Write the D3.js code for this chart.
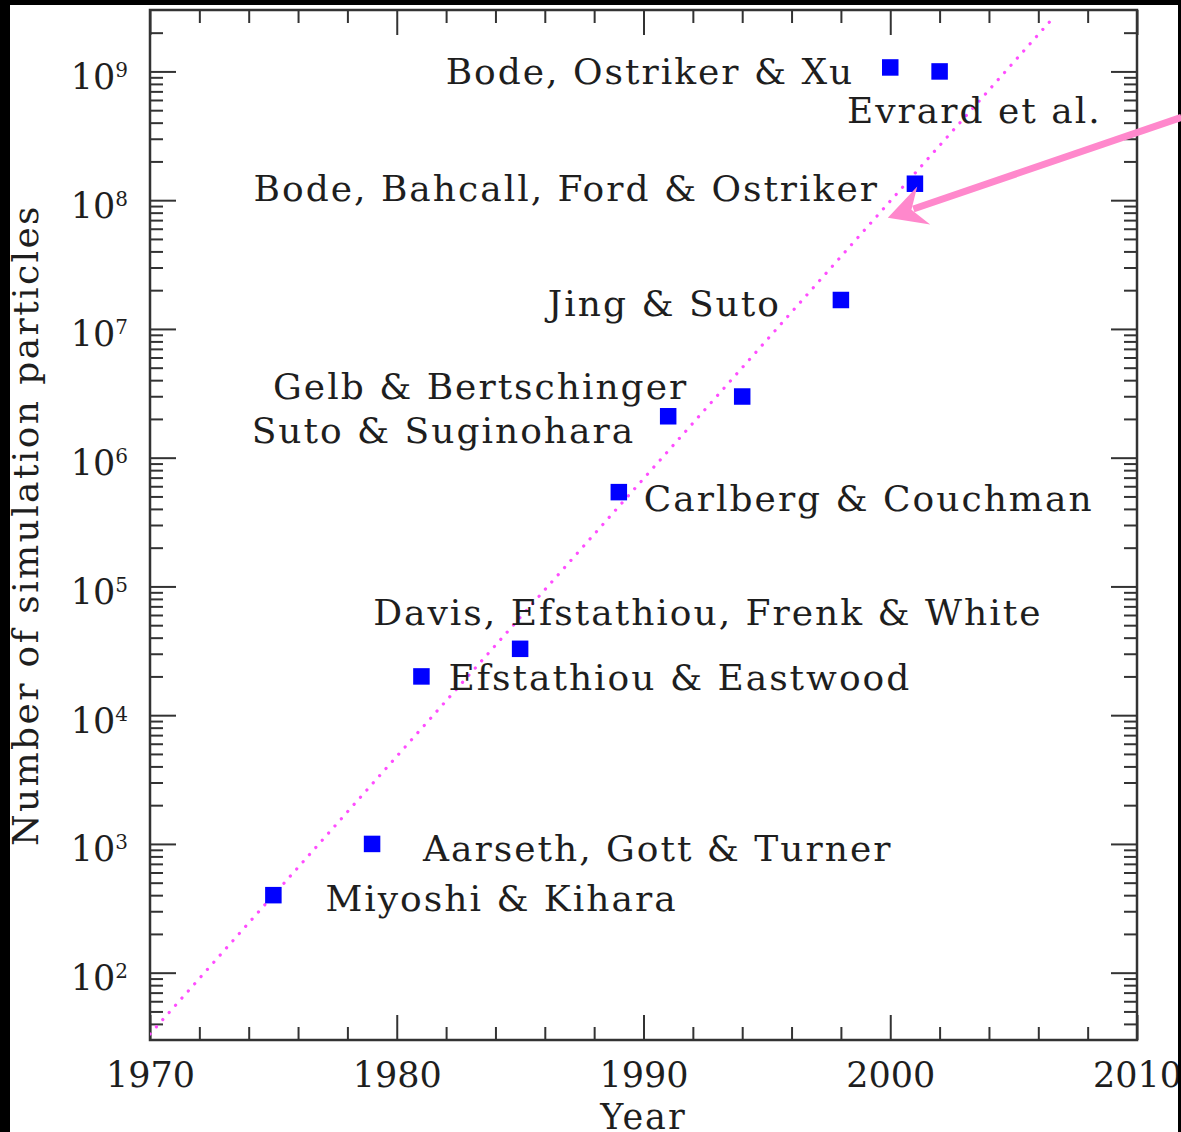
<!DOCTYPE html>
<html>
<head>
<meta charset="utf-8">
<script src="https://cdn.jsdelivr.net/npm/d3@7"></script>
<style>
  body { margin: 0; background: #000; }
  svg { display: block; }
  text { font-family: "DejaVu Serif", serif; fill: #1e1e1e; }
  .tick line { stroke: #333; stroke-width: 2; }
</style>
</head>
<body>
<script>
// simulations, publication year and particle number
const names = [
  'Miyoshi & Kihara', 'Aarseth, Gott & Turner', 'Efstathiou & Eastwood',
  'Davis, Efstathiou, Frenk & White', 'Carlberg & Couchman', 'Suto & Suginohara',
  'Gelb & Bertschinger', 'Jing & Suto', 'Bode, Bahcall, Ford & Ostriker',
  'Bode, Ostriker & Xu', 'Evrard et al.'
];
const years = [1975, 1979, 1981, 1985, 1989, 1991, 1994, 1998, 2001, 2000, 2002];
const particles = [400, 1000, 20000, 32768, 540000, 2097152, 2985984, 16777216, 134217728, 1073741824, 1000000000];

// dotted trend line (end points)
const trendYears = [1970, 2006.7];
const trendParticles = [33.4, 2.74e9];

// pink arrow, tail then tip
const arrowYears = [2011.8, 1999.9];
const arrowParticles = [4.4e8, 7.3e7];

const xMajor = [1970, 1980, 1990, 2000, 2010];
const yExponents = [2, 3, 4, 5, 6, 7, 8, 9];

// label placement relative to each square (px)
const labelLayout = [
  { dx: 52, dy: 16, anchor: 'start' },
  { dx: 51, dy: 17, anchor: 'start' },
  { dx: 27, dy: 14, anchor: 'start' },
  { dx: -147, dy: -24, anchor: 'start' },
  { dx: 25, dy: 19, anchor: 'start' },
  { dx: -33, dy: 27, anchor: 'end' },
  { dx: -54, dy: 2, anchor: 'end' },
  { dx: -60, dy: 16, anchor: 'end' },
  { dx: -36, dy: 17, anchor: 'end' },
  { dx: -36, dy: 17, anchor: 'end' },
  { dx: 162, dy: 52, anchor: 'end' }
];

const W = 1181, H = 1132;
const plot = { left: 150, right: 1137, top: 10, bottom: 1040 };

const svg = d3.select('body').append('svg')
  .attr('width', W)
  .attr('height', H);

svg.append('rect').attr('width', W).attr('height', H).attr('fill', '#000');
svg.append('rect')
  .attr('x', 10).attr('y', 5)
  .attr('width', 1168).attr('height', H - 5)
  .attr('fill', '#fff');

const x = d3.scaleLinear().domain([1970, 2010]).range([plot.left, plot.right]);
const y = d3.scaleLog().domain([30, 3e9]).range([plot.bottom, plot.top]);

const xMinor = d3.range(1972, 2010, 2).filter(d => d % 10 !== 0);
const yMinor = [];
for (let e = 1; e <= 9; e++) {
  for (let k = 2; k <= 9; k++) {
    const v = k * Math.pow(10, e);
    if (v > 30 && v < 3e9) yMinor.push(v);
  }
}
const yMajor = yExponents.map(e => Math.pow(10, e));

// ticks on all four sides, pointing inwards
const addAxis = (axis, tr) => {
  const g = svg.append('g').attr('transform', tr).call(axis);
  g.select('.domain').remove();
  return g;
};

const xAxisG = addAxis(d3.axisBottom(x).tickValues(xMajor).tickSize(-25).tickPadding(22)
  .tickFormat(d3.format('d')), `translate(0,${plot.bottom})`);
addAxis(d3.axisBottom(x).tickValues(xMinor).tickSize(-13).tickFormat(''), `translate(0,${plot.bottom})`);
addAxis(d3.axisTop(x).tickValues(xMajor).tickSize(-25).tickFormat(''), `translate(0,${plot.top})`);
addAxis(d3.axisTop(x).tickValues(xMinor).tickSize(-13).tickFormat(''), `translate(0,${plot.top})`);

const yAxisG = addAxis(d3.axisLeft(y).tickValues(yMajor).tickSize(-26).tickFormat(''), `translate(${plot.left},0)`);
addAxis(d3.axisLeft(y).tickValues(yMinor).tickSize(-13).tickFormat(''), `translate(${plot.left},0)`);
addAxis(d3.axisRight(y).tickValues(yMajor).tickSize(-26).tickFormat(''), `translate(${plot.right},0)`);
addAxis(d3.axisRight(y).tickValues(yMinor).tickSize(-13).tickFormat(''), `translate(${plot.right},0)`);

xAxisG.selectAll('text')
  .attr('font-size', 35)
  .attr('fill', '#1e1e1e')
  .attr('font-family', '"DejaVu Serif", serif');

// y tick labels as 10 with a superscript exponent
yAxisG.selectAll('.tick').each(function (d) {
  const t = d3.select(this).append('text')
    .attr('x', -22)
    .attr('dy', 17)
    .attr('text-anchor', 'end')
    .attr('font-size', 35);
  t.append('tspan').text('10');
  t.append('tspan')
    .attr('font-size', 20)
    .attr('dy', -12)
    .text(String(Math.round(Math.log10(d))));
});

// frame
svg.append('rect')
  .attr('x', plot.left).attr('y', plot.top)
  .attr('width', plot.right - plot.left)
  .attr('height', plot.bottom - plot.top)
  .attr('fill', 'none')
  .attr('stroke', '#333')
  .attr('stroke-width', 2.5);

// axis titles
svg.append('text')
  .attr('x', x(1990))
  .attr('y', 1129)
  .attr('text-anchor', 'middle')
  .attr('font-size', 35)
  .attr('letter-spacing', 2)
  .text('Year');

svg.append('text')
  .attr('transform', `translate(38,${(plot.top + plot.bottom) / 2}) rotate(-90)`)
  .attr('text-anchor', 'middle')
  .attr('font-size', 36)
  .attr('letter-spacing', 2.4)
  .text('Number of simulation particles');

// trend line, clipped to the plot
svg.append('clipPath').attr('id', 'plotClip')
  .append('rect')
  .attr('x', plot.left).attr('y', plot.top)
  .attr('width', plot.right - plot.left)
  .attr('height', plot.bottom - plot.top);

const trend = trendYears.map((yr, i) => [yr, trendParticles[i]]);
svg.append('path')
  .datum(trend)
  .attr('clip-path', 'url(#plotClip)')
  .attr('d', d3.line().x(d => x(d[0])).y(d => y(d[1])))
  .attr('fill', 'none')
  .attr('stroke', '#ff4dff')
  .attr('stroke-width', 3.2)
  .attr('stroke-linecap', 'round')
  .attr('stroke-dasharray', '0.1 9.5');

// data squares
const pts = names.map((n, i) => ({ name: n, year: years[i], n: particles[i], lay: labelLayout[i] }));
const size = 16.5;

svg.selectAll('.pt')
  .data(pts)
  .enter()
  .append('rect')
  .attr('class', 'pt')
  .attr('x', d => x(d.year) - size / 2)
  .attr('y', d => y(d.n) - size / 2)
  .attr('width', size)
  .attr('height', size)
  .attr('fill', '#0000ff');

svg.selectAll('.lbl')
  .data(pts)
  .enter()
  .append('text')
  .attr('class', 'lbl')
  .attr('x', d => x(d.year) + d.lay.dx)
  .attr('y', d => y(d.n) + d.lay.dy)
  .attr('text-anchor', d => d.lay.anchor)
  .attr('font-size', 36)
  .attr('letter-spacing', 2)
  .text(d => d.name);

// black edge strip on the right, arrow drawn over it
svg.append('rect').attr('x', 1178).attr('y', 0).attr('width', 3).attr('height', H).attr('fill', '#000');

const tail = [x(arrowYears[0]), y(arrowParticles[0])];
const tip = [x(arrowYears[1]), y(arrowParticles[1])];
const ang = Math.atan2(tip[1] - tail[1], tip[0] - tail[0]);
const ux = Math.cos(ang), uy = Math.sin(ang);
const px = -uy, py = ux;
const headLen = 38, headHalf = 20, notch = 25;
const neck = [tip[0] - ux * notch, tip[1] - uy * notch];

svg.append('line')
  .attr('x1', tail[0]).attr('y1', tail[1])
  .attr('x2', neck[0] - ux * 2).attr('y2', neck[1] - uy * 2)
  .attr('stroke', '#ff88cc')
  .attr('stroke-width', 7);

const head = [
  tip,
  [tip[0] - ux * headLen + px * headHalf, tip[1] - uy * headLen + py * headHalf],
  neck,
  [tip[0] - ux * headLen - px * headHalf, tip[1] - uy * headLen - py * headHalf]
];
svg.append('path')
  .attr('d', 'M' + head.map(p => p.join(',')).join('L') + 'Z')
  .attr('fill', '#ff88cc');
</script>
</body>
</html>
